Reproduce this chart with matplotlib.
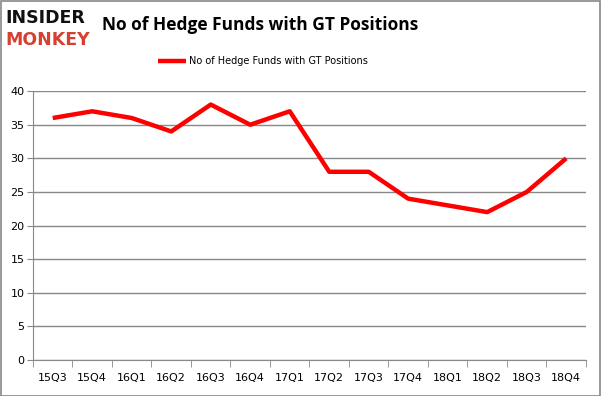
import matplotlib.pyplot as plt
import numpy as np

# Datos
quarters = ["15Q3", "15Q4", "16Q1", "16Q2", "16Q3", "16Q4", "17Q1",
            "17Q2", "17Q3", "17Q4", "18Q1", "18Q2", "18Q3", "18Q4"]
funds = [36, 37, 36, 34, 38, 35, 37, 28, 28, 24, 23, 22, 25, 30]
y_ticks = [0, 5, 10, 15, 20, 25, 30, 35, 40]

fig = plt.figure(figsize=(6.01, 3.96), dpi=100)
ax = fig.add_axes([0.0549, 0.0909, 0.9201, 0.679])

x = np.arange(len(quarters))
ax.plot(x, funds, color="#ff0000", linewidth=3.2, solid_capstyle="butt",
        label="No of Hedge Funds with GT Positions")

ax.set_xlim(-0.5, len(quarters) - 0.5)
ax.set_ylim(0, 40)
ax.set_yticks(y_ticks)
ax.set_xticks(x)
ax.set_xticklabels(quarters)
ax.set_xticks(np.arange(-0.5, len(quarters)), minor=True)
ax.tick_params(axis="x", which="major", length=0, pad=9, labelsize=8, colors="#000000")
ax.tick_params(axis="x", which="minor", length=5, color="#888888")
ax.tick_params(axis="y", length=4, color="#888888", labelsize=8, pad=2)
ax.grid(axis="y", color="#888888", linewidth=1)
ax.set_axisbelow(True)
for s in ["top", "right"]:
    ax.spines[s].set_visible(False)
for s in ["left", "bottom"]:
    ax.spines[s].set_color("#888888")

leg = fig.legend(loc="center", bbox_to_anchor=(0.437, 0.845), frameon=False,
                 fontsize=7.0, handlelength=2.9, handletextpad=0.3)

# Título
fig.text(0.433, 0.937, "No of Hedge Funds with GT Positions", ha="center", va="center",
         fontsize=12.5, fontweight="bold", family="Open Sans")

# Logo
fig.text(0.009, 0.955, "INSIDER", ha="left", va="center", fontsize=12.5,
         fontweight="heavy", family="DejaVu Sans", color="#111111")
fig.text(0.009, 0.9, "MONKEY", ha="left", va="center", fontsize=12.5,
         fontweight="heavy", family="DejaVu Sans", color="#d64030")

fig.patches.append(plt.Rectangle((0.001, 0.001), 0.997, 0.996, transform=fig.transFigure,
                                 fill=False, edgecolor="#888888", linewidth=1.2))

fig.savefig("out.png", dpi=100)
